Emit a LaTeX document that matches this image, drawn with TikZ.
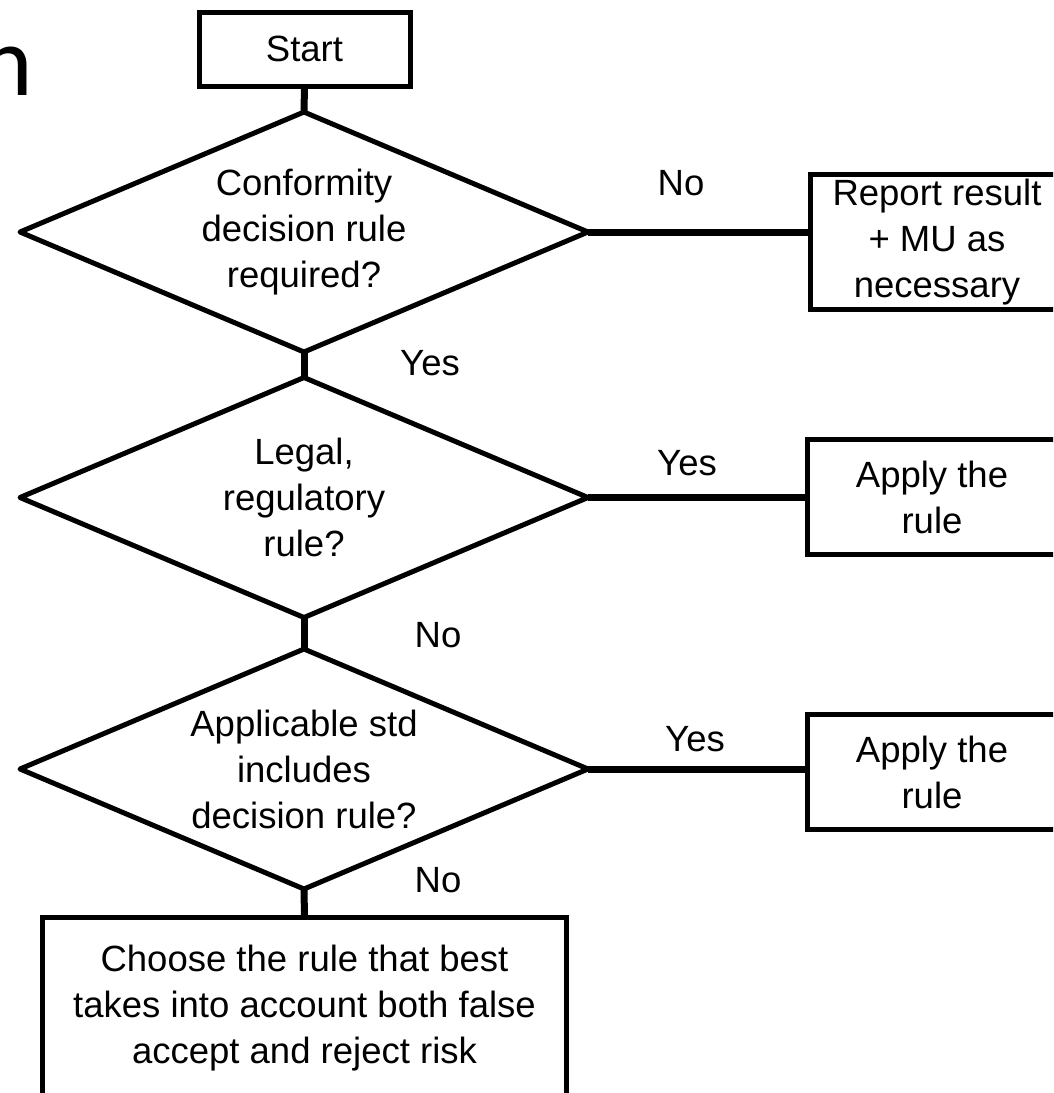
\documentclass[tikz,border=0pt]{standalone}
\usepackage{fontspec}
\setmainfont{Liberation Sans}
\newfontfamily\titlefont{Carlito}
\usetikzlibrary{shapes.geometric}
\begin{document}
\begin{tikzpicture}[x=1pt,y=-1pt,
  every node/.style={font=\fontsize{36.5}{46}\selectfont},
  box/.style={draw, line width=5pt, rectangle, inner sep=0pt, outer sep=0pt, align=center},
  dia/.style={draw, line width=5pt, line join=round, diamond, minimum width=568pt, minimum height=240pt, inner sep=0pt, outer sep=0pt},
  diatext/.style={inner sep=0pt, align=center},
  conn/.style={line width=7pt},
  lbl/.style={inner sep=0pt}]
\path[use as bounding box] (0,0) rectangle (1053,1093);
\clip (0,0) rectangle (1053,1093);
% cropped title letter
\node[inner sep=0pt, anchor=base east, font=\titlefont\fontsize{100}{100}\selectfont] (ttl) at (33,95) {n};
% nodes
\node[box, minimum width=211pt, minimum height=74pt] (start) at (304.5,49) {Start};
\node[dia] (d1) at (304,232) {};
\node[dia] (d2) at (304,497.5) {};
\node[dia] (d3) at (304,769) {};
\node[diatext] (d1t) at (d1.center) {Conformity\\decision rule\\required?};
\node[diatext] (d2t) at (d2.center) {Legal,\\regulatory\\rule?};
\node[diatext] (d3t) at (d3.center) {Applicable std\\includes\\decision rule?};
\node[box, minimum width=254pt, minimum height=135pt] (r1) at (937,242) {Report result\\+ MU as\\necessary};
\node[box, minimum width=249pt, minimum height=115pt] (r2) at (932,497) {Apply the\\rule};
\node[box, minimum width=249pt, minimum height=115pt] (r3) at (932,772) {Apply the\\rule};
\node[box, minimum width=524pt, minimum height=181pt] (fin) at (304.5,1008) {Choose the rule that best\\takes into account both false\\accept and reject risk};
% connectors
\draw[conn] (start.south) -- (d1.north);
\draw[conn] (d1.south) -- (d2.north);
\draw[conn] (d2.south) -- (d3.north);
\draw[conn] (d3.south) -- (fin.north);
\draw[conn] (d1.east) -- (d1.east -| r1.west);
\draw[conn] (d2.east) -- (d2.east -| r2.west);
\draw[conn] (d3.east) -- (d3.east -| r3.west);
% labels
\node[lbl] (l1) at (681,183) {No};
\node[lbl] (l2) at (430,363) {Yes};
\node[lbl] (l3) at (687,463) {Yes};
\node[lbl] (l4) at (438,635) {No};
\node[lbl] (l5) at (695,739) {Yes};
\node[lbl] (l6) at (438,880) {No};
\end{tikzpicture}
\end{document}
